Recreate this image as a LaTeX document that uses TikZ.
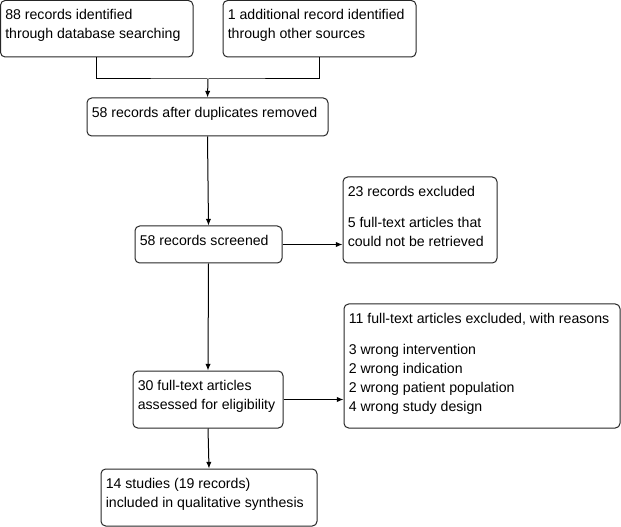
\documentclass[tikz,border=0pt]{standalone}
\usepackage{fontspec}
\setmainfont{Liberation Sans}
\usetikzlibrary{fit,calc,arrows.meta}
\begin{document}
\begin{tikzpicture}[x=0.75pt,y=-0.75pt,
  box/.style={draw=black!85,line width=0.75pt,rounded corners=3.5pt,inner sep=0pt},
  txt/.style={anchor=north west,inner sep=0pt,align=left,font=\fontsize{10.6}{14.25}\selectfont},
  conn/.style={line width=0.75pt},
  arr/.style={conn,-{Latex[length=5pt,width=4pt]}}]
\useasboundingbox (0,0) rectangle (621,527);
\node[box,fit={(0.5,0.5) (193,57)}] (b1) {};
\node[box,fit={(223,0.5) (416,57)}] (b2) {};
\node[box,fit={(87,98) (328,136)}] (b3) {};
\node[box,fit={(135,226) (282,263)}] (b4) {};
\node[box,fit={(343,177) (497,263)}] (b5) {};
\node[box,fit={(344,304) (620,428)}] (b6) {};
\node[box,fit={(133,371) (283,428)}] (b7) {};
\node[box,fit={(101,469) (317,526)}] (b8) {};
\node[txt] (t1) at ($(b1.north west)+(5,9)$) {88 records identified\\through database searching};
\node[txt] (t2) at ($(b2.north west)+(5,9)$) {1 additional record identified\\through other sources};
\node[txt] (t3) at ($(b3.north west)+(5,9)$) {58 records after duplicates removed};
\node[txt] (t4) at ($(b4.north west)+(5,9)$) {58 records screened};
\node[txt] (t5) at ($(b5.north west)+(5,9)$) {23 records excluded\\[9pt]5 full-text articles that\\could not be retrieved};
\node[txt] (t6) at ($(b6.north west)+(5,9)$) {11 full-text articles excluded, with reasons\\[9pt]3 wrong intervention\\2 wrong indication\\2 wrong patient population\\4 wrong study design};
\node[txt] (t7) at ($(b7.north west)+(5,9)$) {30 full-text articles\\assessed for eligibility};
\node[txt] (t8) at ($(b8.north west)+(5,9)$) {14 studies (19 records)\\included in qualitative synthesis};
\coordinate (j) at (208,79);
\draw[conn] (b1.south) |- (j) -| (b2.south);
\draw[arr] (j) -- (b3.north);
\draw[arr] (b3.south) -- (b4.north);
\draw[arr] (b4.east) -- (b4.east -| b5.west);
\draw[arr] (b4.south) -- (b7.north);
\draw[arr] (b7.east) -- (b7.east -| b6.west);
\draw[arr] (b7.south) -- (b8.north);
\end{tikzpicture}
\end{document}
